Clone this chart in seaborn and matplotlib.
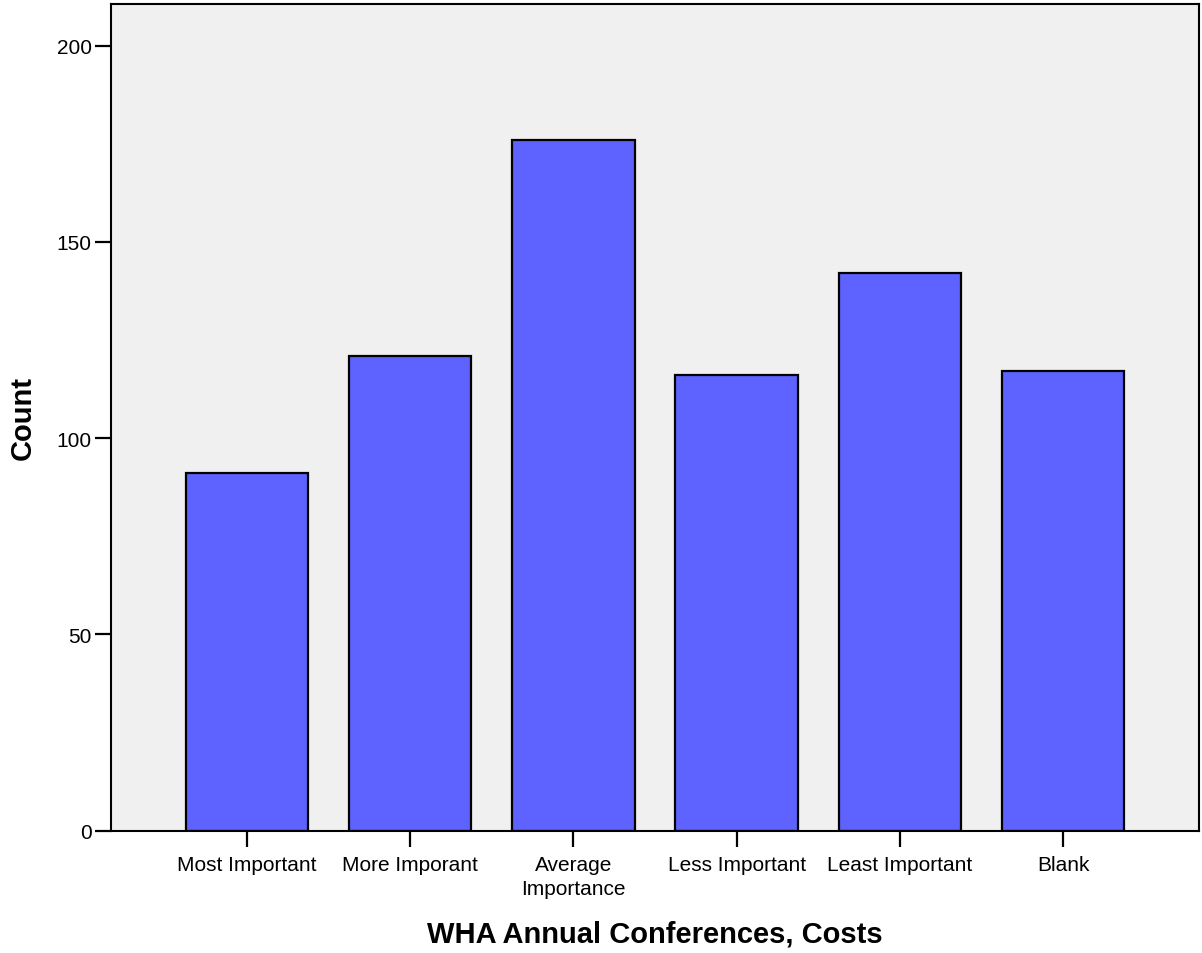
import matplotlib
matplotlib.use("Agg")
import matplotlib.pyplot as plt
import seaborn as sns
import pandas as pd

categories = ["Most Important", "More Imporant", "Average\nImportance",
              "Less Important", "Least Important", "Blank"]
counts = [91, 121, 176, 116, 142, 117]
y_ticks = [0, 50, 100, 150, 200]

sns.set_theme(style="white")
plt.rcParams['font.family'] = ['Liberation Sans', 'DejaVu Sans']

df = pd.DataFrame({"cat": categories, "count": counts})

fig = plt.figure(figsize=(12.02, 9.54), dpi=100)
ax = fig.add_axes([111/1202, 1 - 831.7/954, (1199-111)/1202, (831.7-5)/954])
ax.set_facecolor("#F0F0F0")

sns.barplot(data=df, x="cat", y="count", color="#5E63FF", saturation=1,
            width=0.75, edgecolor="black", linewidth=1.6, ax=ax)

ax.set_xlim(-0.833, 5.833)
ax.set_ylim(0, 210.6)
ax.set_yticks(y_ticks)
ax.set_yticklabels([str(t) for t in y_ticks])

for s in ax.spines.values():
    s.set_visible(True)
    s.set_color("black")
    s.set_linewidth(1.5)

ax.tick_params(axis="both", which="major", direction="out", length=11.5,
               width=1.6, color="black", labelsize=15, labelcolor="black",
               left=True, bottom=True, pad=2.5)
ax.tick_params(axis="x", pad=6)
for lbl in ax.get_xticklabels():
    lbl.set_linespacing(1.35)

ax.set_xlabel("WHA Annual Conferences, Costs", fontsize=21, fontweight="bold",
              labelpad=15, color="black")
ax.set_ylabel("Count", fontsize=21, fontweight="bold", labelpad=14, color="black")

fig.savefig("out.png", dpi=100, facecolor="white")
